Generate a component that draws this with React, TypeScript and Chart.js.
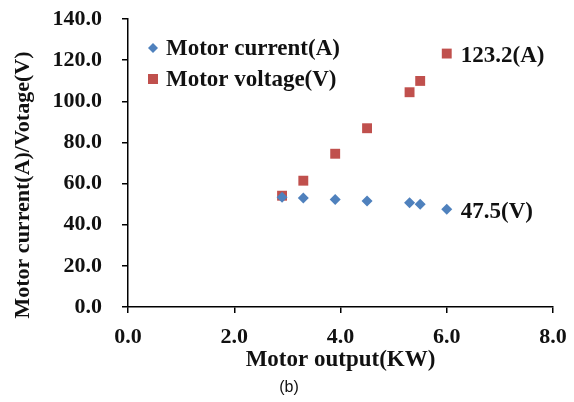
import React, { useEffect, useRef } from "react";
import { Chart, registerables } from "chart.js";

Chart.register(...registerables);

const outputKW = [2.9, 3.3, 3.9, 4.5, 5.3, 5.5, 6.0];
const motorCurrent = [53.3, 53.0, 52.2, 51.5, 50.7, 49.9, 47.5];
const motorVoltage = [54.1, 61.4, 74.5, 86.9, 104.4, 109.9, 123.2];
const xTicks = [0, 2, 4, 6, 8];
const yTicks = [0, 20, 40, 60, 80, 100, 120, 140];
const currentLabel = "Motor current(A)";
const voltageLabel = "Motor voltage(V)";
const xTitle = "Motor output(KW)";
const yTitle = "Motor current(A)/Votage(V)";
const endLabels = ["47.5(V)", "123.2(A)"];
const caption = "(b)";

const SERIF = "'Liberation Serif', 'Times New Roman', serif";
const BLUE = "#4F81BD";
const RED = "#C0504D";

const extrasPlugin = {
  id: "extras",
  afterDraw(chart: any) {
    const ctx = chart.ctx;
    const xs = chart.scales.x;
    const ys = chart.scales.y;
    ctx.save();
    // legend (inside plot area, top-left)
    chart.data.datasets.forEach((ds: any, i: number) => {
      const mx = 153;
      const my = 48 + i * 31;
      ctx.fillStyle = ds.backgroundColor;
      ctx.beginPath();
      if (ds.pointStyle === "rectRot") {
        const r = 5;
        ctx.moveTo(mx, my - r);
        ctx.lineTo(mx + r, my);
        ctx.lineTo(mx, my + r);
        ctx.lineTo(mx - r, my);
        ctx.closePath();
      } else {
        ctx.rect(mx - 5, my - 5, 10, 10);
      }
      ctx.fill();
      ctx.fillStyle = "#111";
      ctx.font = `bold 23px ${SERIF}`;
      ctx.textAlign = "left";
      ctx.textBaseline = "middle";
      ctx.fillText(ds.label, 166, my + 1);
    });
    // end labels
    const lastIdx = outputKW.length - 1;
    const lx = xs.getPixelForValue(outputKW[lastIdx]) + 14;
    ctx.font = `bold 23px ${SERIF}`;
    ctx.fillStyle = "#111";
    ctx.textAlign = "left";
    ctx.textBaseline = "middle";
    ctx.fillText(endLabels[0], lx, ys.getPixelForValue(motorCurrent[lastIdx]) + 3);
    ctx.fillText(endLabels[1], lx, ys.getPixelForValue(motorVoltage[lastIdx]) + 3);
    // y title
    ctx.save();
    ctx.translate(23, 185);
    ctx.rotate(-Math.PI / 2);
    ctx.textAlign = "center";
    ctx.textBaseline = "middle";
    ctx.font = `bold 22px ${SERIF}`;
    ctx.fillText(yTitle, 0, 0);
    ctx.restore();
    // caption
    ctx.font = `16px 'Liberation Sans', Arial, sans-serif`;
    ctx.fillStyle = "#111";
    ctx.textAlign = "center";
    ctx.textBaseline = "middle";
    ctx.fillText(caption, 289, 388);
    ctx.restore();
  },
};

export default function App() {
  const ref = useRef<HTMLCanvasElement>(null);
  useEffect(() => {
    if (!ref.current) return;
    const chart = new Chart(ref.current, {
      type: "scatter",
      data: {
        datasets: [
          {
            label: currentLabel,
            data: outputKW.map((x, i) => ({ x, y: motorCurrent[i] })),
            backgroundColor: BLUE,
            borderColor: BLUE,
            pointStyle: "rectRot",
            pointRadius: 5.5,
            borderWidth: 0,
          },
          {
            label: voltageLabel,
            data: outputKW.map((x, i) => ({ x, y: motorVoltage[i] })),
            backgroundColor: RED,
            borderColor: RED,
            pointStyle: "rect",
            pointRadius: 7,
            borderWidth: 0,
          },
        ] as any,
      },
      options: {
        animation: false,
        responsive: false,
        devicePixelRatio: 1,
        layout: { padding: { left: 0, top: 19, right: 21, bottom: 28 } },
        plugins: {
          legend: { display: false },
          tooltip: { enabled: false },
        },
        scales: {
          x: {
            type: "linear",
            min: 0,
            max: 8,
            afterBuildTicks: (s: any) => {
              s.ticks = xTicks.map((v) => ({ value: v }));
            },
            afterFit: (s: any) => {
              s.height = 67;
              s.paddingLeft = 0;
              s.paddingRight = 0;
            },
            grid: {
              drawOnChartArea: false,
              drawTicks: true,
              tickLength: 6,
              color: "#000",
              lineWidth: 1.5,
            },
            border: { display: true, color: "#000", width: 1.5 },
            ticks: {
              color: "#111",
              padding: 11,
              font: { family: SERIF, size: 22, weight: "bold" },
              callback: (v: any) => Number(v).toFixed(1),
              maxRotation: 0,
              autoSkip: false,
            },
            title: {
              display: true,
              text: xTitle,
              color: "#111",
              padding: { top: 0, bottom: 0 },
              font: { family: SERIF, size: 23, weight: "bold" },
            },
          },
          y: {
            type: "linear",
            min: 0,
            max: 140,
            afterBuildTicks: (s: any) => {
              s.ticks = yTicks.map((v) => ({ value: v }));
            },
            afterFit: (s: any) => {
              s.width = 128;
              s.paddingTop = 0;
              s.paddingBottom = 0;
            },
            grid: {
              drawOnChartArea: false,
              drawTicks: true,
              tickLength: 6,
              color: "#000",
              lineWidth: 1.5,
            },
            border: { display: true, color: "#000", width: 1.5 },
            ticks: {
              color: "#111",
              padding: 20,
              font: { family: SERIF, size: 22, weight: "bold" },
              callback: (v: any) => Number(v).toFixed(1),
              autoSkip: false,
            },
          },
        },
      },
      plugins: [extrasPlugin],
    });
    return () => chart.destroy();
  }, []);
  return (
    <div style={{ position: "absolute", left: 0, top: 0, width: 574, height: 402, background: "#fff" }}>
      <canvas ref={ref} width={574} height={402} style={{ display: "block" }} />
    </div>
  );
}
